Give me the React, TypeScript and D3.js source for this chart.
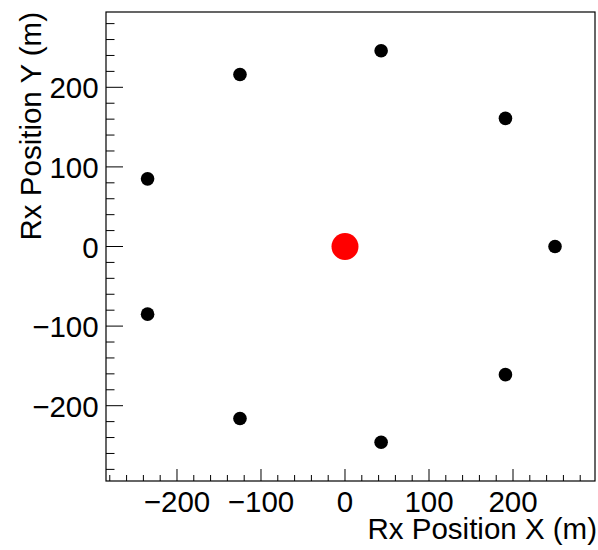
import React from "react";
import * as d3 from "d3";

const rxX = [250, 191, 43, -125, -235, -235, -125, 43, 191];
const rxY = [0, 161, 246, 216, 85, -85, -216, -246, -161];
const txX = [0];
const txY = [0];
const xTicks = [-200, -100, 0, 100, 200];
const yTicks = [-200, -100, 0, 100, 200];

const W = 598, H = 550;
const L = 106, R = 595, T = 12, B = 481;
const FONT = "'Liberation Sans', Arial, Helvetica, sans-serif";
const FS = 29.5;

const fmt = (v: number) => (v < 0 ? "\u2212" + Math.abs(v) : String(v));

export default function App() {
  const x = d3.scaleLinear().domain([-284.5, 297.6]).range([L, R]);
  const y = d3.scaleLinear().domain([-294.6, 294.6]).range([B, T]);
  const xMinor = d3.range(-280, 298, 20);
  const yMinor = d3.range(-280, 295, 20);
  return (
    <svg width={W} height={H} style={{ position: "absolute", left: 0, top: 0, background: "#fff" }}>
      <rect x={0} y={0} width={W} height={H} fill="#fff" />
      <rect x={L} y={T} width={R - L} height={B - T} fill="none" stroke="#000" strokeWidth={1.2} />
      {xMinor.map((v) => {
        const major = v % 100 === 0;
        return (
          <line key={"xm" + v} x1={x(v)} x2={x(v)} y1={B} y2={B - (major ? 12 : 6)} stroke="#000" strokeWidth={1} />
        );
      })}
      {yMinor.map((v) => {
        const major = v % 100 === 0;
        return (
          <line key={"ym" + v} x1={L} x2={L + (major ? 17 : 8.5)} y1={y(v)} y2={y(v)} stroke="#000" strokeWidth={1} />
        );
      })}
      {xTicks.map((v) => (
        <text key={"xt" + v} x={x(v)} y={511.5} textAnchor="middle" fontFamily={FONT} fontSize={FS} fill="#000">
          {fmt(v)}
        </text>
      ))}
      {yTicks.map((v) => (
        <text key={"yt" + v} x={98.7} y={y(v) + 11} textAnchor="end" fontFamily={FONT} fontSize={FS} fill="#000">
          {fmt(v)}
        </text>
      ))}
      <text x={597} y={539} textAnchor="end" fontFamily={FONT} fontSize={FS} fill="#000">
        Rx Position X (m)
      </text>
      <text
        transform={`translate(41, ${T}) rotate(-90)`}
        textAnchor="end"
        fontFamily={FONT}
        fontSize={FS}
        fill="#000"
      >
        Rx Position Y (m)
      </text>
      {rxX.map((v, i) => (
        <circle key={"rx" + i} cx={x(v)} cy={y(rxY[i])} r={6.8} fill="#000" />
      ))}
      {txX.map((v, i) => (
        <circle key={"tx" + i} cx={x(v)} cy={y(txY[i])} r={13.5} fill="#ff0000" />
      ))}
    </svg>
  );
}
